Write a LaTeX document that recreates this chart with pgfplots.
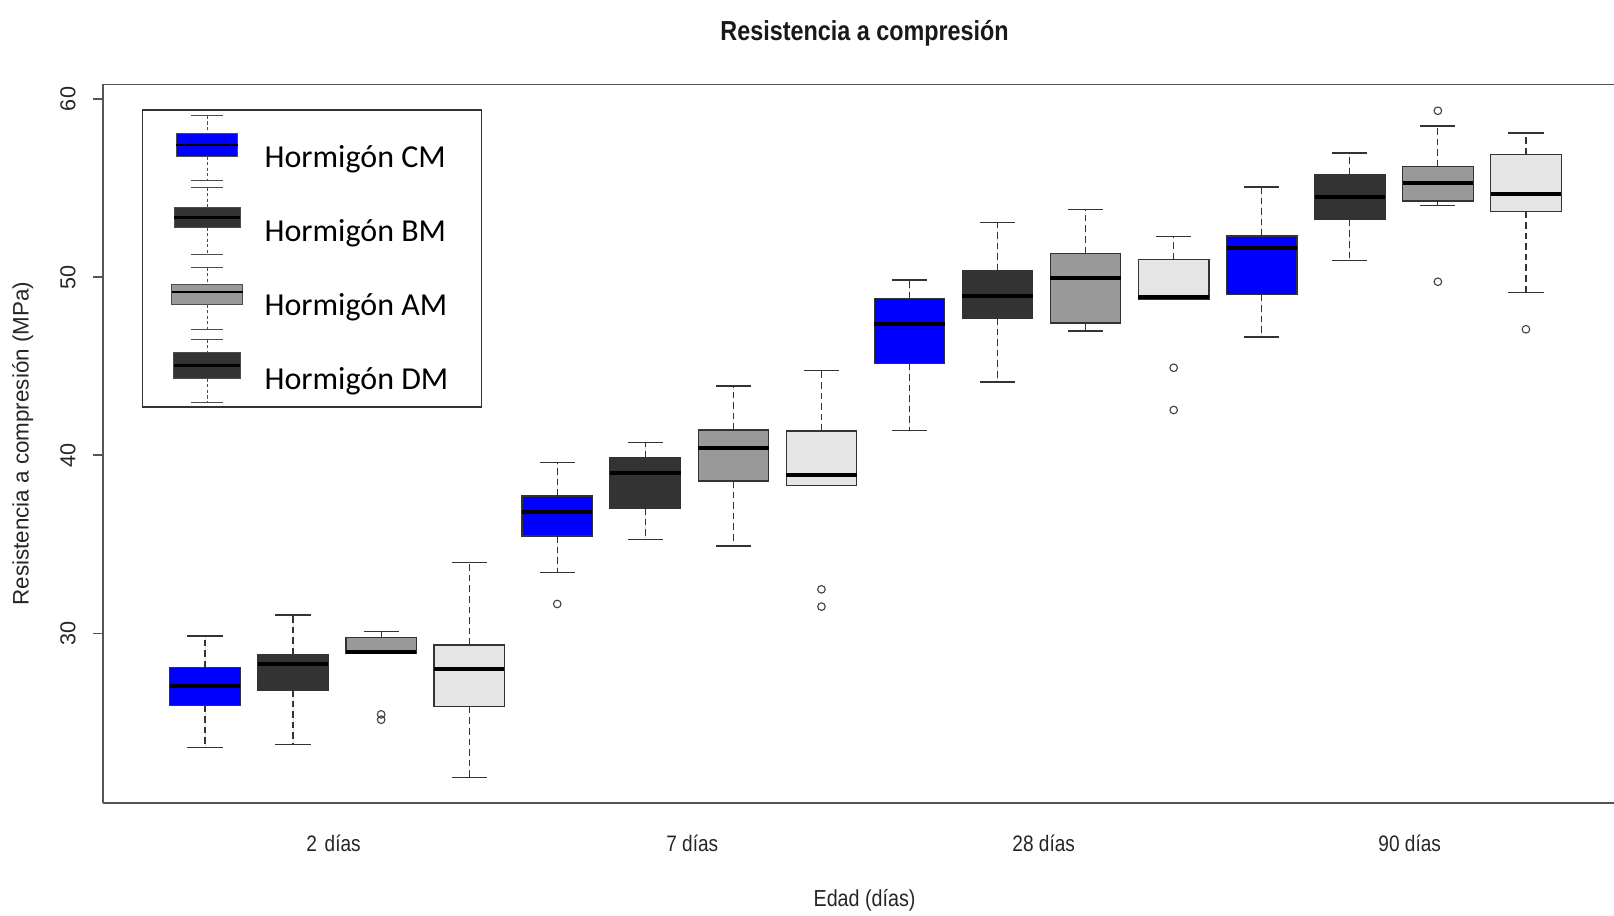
\documentclass[border=0pt]{standalone}
\usepackage{pgfplots}
\pgfplotsset{compat=1.18}
\usepgfplotslibrary{statistics}
\usepackage{fontspec}
\setmainfont{Liberation Sans}
\newfontfamily\narrow[FakeStretch=0.85]{Liberation Sans}
\newfontfamily\carlito{Carlito}
\definecolor{cmblue}{RGB}{0,0,255}
\definecolor{bmdark}{RGB}{51,51,51}
\definecolor{amgray}{RGB}{153,153,153}
\definecolor{dmlight}{RGB}{229,229,229}
\definecolor{framec}{RGB}{85,85,85}
% legend glyph: color, staple top, box top, median, box bottom, staple bottom, half width
\newcommand{\legbox}[7]{%
  \path[draw=none, fill=none] (0pt,-12.5pt) rectangle (35.5pt,22pt);
  \draw[black!70, line width=0.5pt, dash pattern=on 1.6pt off 1.2pt] (17.75pt,#2) -- (17.75pt,#3) (17.75pt,#5) -- (17.75pt,#6);
  \draw[black!70, line width=0.5pt] (9.75pt,#2) -- (25.75pt,#2) (9.75pt,#6) -- (25.75pt,#6);
  \draw[black!70, line width=0.5pt, fill=#1] (17.75pt-#7,#5) rectangle (17.75pt+#7,#3);
  \draw[black, line width=1.1pt] (17.75pt-#7,#4) -- (17.75pt+#7,#4);
}
\pgfplotsset{rbox/.style={boxplot prepared={#1}, draw=black!80, line width=0.6pt, solid,
  mark=o, mark size=1.9pt, mark options={draw=black!75, line width=0.55pt}}}
\begin{document}
\begin{tikzpicture}
\useasboundingbox (-51.65pt,-56.55pt) rectangle (755.35pt,401.45pt);
\begin{axis}[
  scale only axis,
  width=755.35pt, height=359.25pt,
  xmin=-0.155, xmax=17.0,
  ymin=20.48, ymax=60.82,
  clip=false,
  axis x line*=box, axis y line*=left,
  axis line style={framec, line width=0.8pt},
  tick align=outside,
  major tick length=5.1pt,
  ytick={30,40,50,60},
  ytick style={framec, line width=0.8pt},
  xtick={2.459,6.533,10.524,14.68},
  xticklabels={2\hspace{0.35em}días, 7 días, 28 días, 90 días},
  xtick style={draw=none},
  xticklabel style={font=\narrow\fontsize{11.2}{13}\selectfont, anchor=base, yshift=-19.3pt, text=black!85},
  yticklabel style={font=\fontsize{10.8}{13}\selectfont, rotate=90, anchor=south, inner ysep=8.5pt, text=black!85},
  /pgf/number format/assume math mode=true,
  boxplot/draw direction=y,
  boxplot/box extend=0.8,
  boxplot/whisker extend=0.4,
  boxplot/every median/.style={draw=black, line width=2pt},
  boxplot/draw/lower whisker/.code={%
    \draw[dash pattern=on 3.3pt off 2pt] (boxplot cs:\pgfplotsboxplotvalue{lower quartile}) -- (boxplot cs:\pgfplotsboxplotvalue{lower whisker});
    \draw[solid] (boxplot whisker cs:\pgfplotsboxplotvalue{lower whisker},0) -- (boxplot whisker cs:\pgfplotsboxplotvalue{lower whisker},1);
  },
  boxplot/draw/upper whisker/.code={%
    \draw[dash pattern=on 3.3pt off 2pt] (boxplot cs:\pgfplotsboxplotvalue{upper quartile}) -- (boxplot cs:\pgfplotsboxplotvalue{upper whisker});
    \draw[solid] (boxplot whisker cs:\pgfplotsboxplotvalue{upper whisker},0) -- (boxplot whisker cs:\pgfplotsboxplotvalue{upper whisker},1);
  },
  legend cell align=left,
  legend style={at={(axis description cs:0.0254,0.9653)}, anchor=north west,
    draw=black!80, line width=0.6pt, fill=white, inner xsep=14.1pt, inner ysep=1.5pt,
    column sep=10.5pt, row sep=2.5pt, font=\carlito\fontsize{16}{19}\selectfont,
    nodes={inner sep=0pt, text height=10.3pt, text depth=0pt}},
]
\addlegendimage{legend image code/.code={\legbox{cmblue}{20.6pt}{11.5pt}{6pt}{0.3pt}{-11.9pt}{15.45pt}}}
\addlegendentry{Hormigón CM\kern2.5pt}
\addlegendimage{legend image code/.code={\legbox{bmdark}{21.8pt}{11.8pt}{6.8pt}{1.8pt}{-11.5pt}{16.5pt}}}
\addlegendentry{Hormigón BM\kern2.5pt}
\addlegendimage{legend image code/.code={\legbox{amgray}{18.7pt}{10.3pt}{6.7pt}{0.3pt}{-12.2pt}{17.75pt}}}
\addlegendentry{Hormigón AM\kern2.5pt}
\addlegendimage{legend image code/.code={\legbox{bmdark}{19.8pt}{13.5pt}{6.8pt}{0.2pt}{-11.8pt}{16.65pt}}}
\addlegendentry{Hormigón DM\kern2.5pt}

% 2 dias
\addplot[rbox={draw position=1, lower whisker=23.58, lower quartile=25.94, median=27.06, upper quartile=28.09, upper whisker=29.85}, fill=cmblue] coordinates {};
\addplot[rbox={draw position=2, lower whisker=23.75, lower quartile=26.82, median=28.26, upper quartile=28.82, upper whisker=31.03}, fill=bmdark] coordinates {};
\addplot[rbox={draw position=3, lower whisker=28.88, lower quartile=28.88, median=28.98, upper quartile=29.75, upper whisker=30.09}, fill=amgray] table[row sep=\\, y index=0] {y\\ 25.45\\ 25.15\\};
\addplot[rbox={draw position=4, lower whisker=21.89, lower quartile=25.88, median=28.01, upper quartile=29.34, upper whisker=33.96}, fill=dmlight] coordinates {};
% 7 dias
\addplot[rbox={draw position=5, lower whisker=33.40, lower quartile=35.46, median=36.81, upper quartile=37.71, upper whisker=39.58}, fill=cmblue] table[row sep=\\, y index=0] {y\\ 31.65\\};
\addplot[rbox={draw position=6, lower whisker=35.29, lower quartile=37.04, median=38.98, upper quartile=39.84, upper whisker=40.70}, fill=bmdark] coordinates {};
\addplot[rbox={draw position=7, lower whisker=34.90, lower quartile=38.55, median=40.39, upper quartile=41.42, upper whisker=43.89}, fill=amgray] coordinates {};
\addplot[rbox={draw position=8, lower whisker=38.31, lower quartile=38.31, median=38.87, upper quartile=41.36, upper whisker=44.75}, fill=dmlight] table[row sep=\\, y index=0] {y\\ 32.47\\ 31.50\\};
% 28 dias
\addplot[rbox={draw position=9, lower whisker=41.39, lower quartile=45.16, median=47.35, upper quartile=48.79, upper whisker=49.84}, fill=cmblue] coordinates {};
\addplot[rbox={draw position=10, lower whisker=44.11, lower quartile=47.70, median=48.96, upper quartile=50.38, upper whisker=53.08}, fill=bmdark] coordinates {};
\addplot[rbox={draw position=11, lower whisker=46.97, lower quartile=47.42, median=49.97, upper quartile=51.34, upper whisker=53.79}, fill=amgray] coordinates {};
\addplot[rbox={draw position=12, lower whisker=48.77, lower quartile=48.77, median=48.90, upper quartile=51.00, upper whisker=52.29}, fill=dmlight] table[row sep=\\, y index=0] {y\\ 44.91\\ 42.54\\};
% 90 dias
\addplot[rbox={draw position=13, lower whisker=46.64, lower quartile=49.03, median=51.65, upper quartile=52.31, upper whisker=55.06}, fill=cmblue] coordinates {};
\addplot[rbox={draw position=14, lower whisker=50.92, lower quartile=53.22, median=54.52, upper quartile=55.77, upper whisker=56.97}, fill=bmdark] coordinates {};
\addplot[rbox={draw position=15, lower whisker=54.03, lower quartile=54.27, median=55.30, upper quartile=56.22, upper whisker=58.48}, fill=amgray] table[row sep=\\, y index=0] {y\\ 59.34\\ 49.74\\};
\addplot[rbox={draw position=16, lower whisker=49.12, lower quartile=53.69, median=54.68, upper quartile=56.89, upper whisker=58.09}, fill=dmlight] table[row sep=\\, y index=0] {y\\ 47.07\\};

\node[anchor=base, font=\narrow\bfseries\fontsize{13.75}{16}\selectfont, text=black!90] at ([yshift=381.1pt]axis cs:8.49,20.48) {Resistencia a compresión};
\node[anchor=base, font=\narrow\fontsize{11.6}{14}\selectfont, text=black!85] at ([yshift=-51.9pt]axis cs:8.49,20.48) {Edad (días)};
\node[anchor=center, rotate=90, font=\fontsize{11.2}{13}\selectfont, text=black!85] at ([xshift=-40.35pt]axis cs:-0.155,40.65) {Resistencia a compresión (MPa)};
\end{axis}
\end{tikzpicture}
\end{document}
